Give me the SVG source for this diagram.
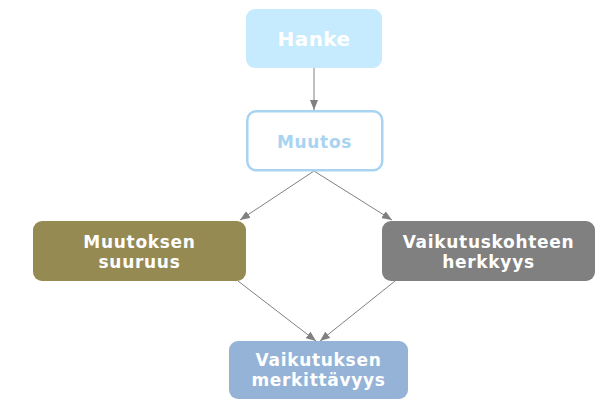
<svg xmlns="http://www.w3.org/2000/svg" width="616" height="410" viewBox="0 0 616 410">
<style>
text{font-family:"DejaVu Sans","Verdana",sans-serif;font-weight:bold;text-anchor:middle;fill:#fff;font-size:17px;letter-spacing:0.7px}
.c{stroke:#808080;stroke-width:1;fill:none;marker-end:url(#ah)}
</style>
<defs>
<marker id="ah" markerWidth="10" markerHeight="8" refX="10" refY="4" orient="auto" markerUnits="userSpaceOnUse">
<path d="M0,0 L10,4 L0,8 Z" fill="#808080"/>
</marker>
</defs>
<rect width="616" height="410" fill="#fff"/>
<g id="connectors">
<line class="c" x1="314" y1="68" x2="314" y2="110"/>
<line class="c" x1="314" y1="171" x2="240" y2="220"/>
<line class="c" x1="314" y1="171" x2="392" y2="220"/>
<line class="c" x1="238" y1="281" x2="316" y2="341"/>
<line class="c" x1="395" y1="281" x2="320" y2="341"/>
</g>
<g id="hanke">
<rect x="246" y="9" width="136" height="59" rx="9" fill="#C6EBFE"/>
<text x="314" y="46" style="font-size:20px;letter-spacing:0.4px">Hanke</text>
</g>
<g id="muutos">
<rect x="247.25" y="111.25" width="135" height="59" rx="9" fill="#fff" stroke="#A8D4F2" stroke-width="2.5"/>
<text x="314.5" y="148" style="fill:#A8D4F2">Muutos</text>
</g>
<g id="suuruus">
<rect x="33" y="221" width="213" height="60" rx="9" fill="#968A53"/>
<text x="139.5" y="248">Muutoksen</text>
<text x="139.5" y="268">suuruus</text>
</g>
<g id="herkkyys">
<rect x="382" y="221" width="213" height="60" rx="9" fill="#808080"/>
<text x="488.5" y="247.5">Vaikutuskohteen</text>
<text x="488.5" y="268">herkkyys</text>
</g>
<g id="merkittavyys">
<rect x="229" y="341" width="179" height="58" rx="9" fill="#95B3D7"/>
<text x="318.5" y="366">Vaikutuksen</text>
<text x="318.5" y="386">merkittävyys</text>
</g>
</svg>
